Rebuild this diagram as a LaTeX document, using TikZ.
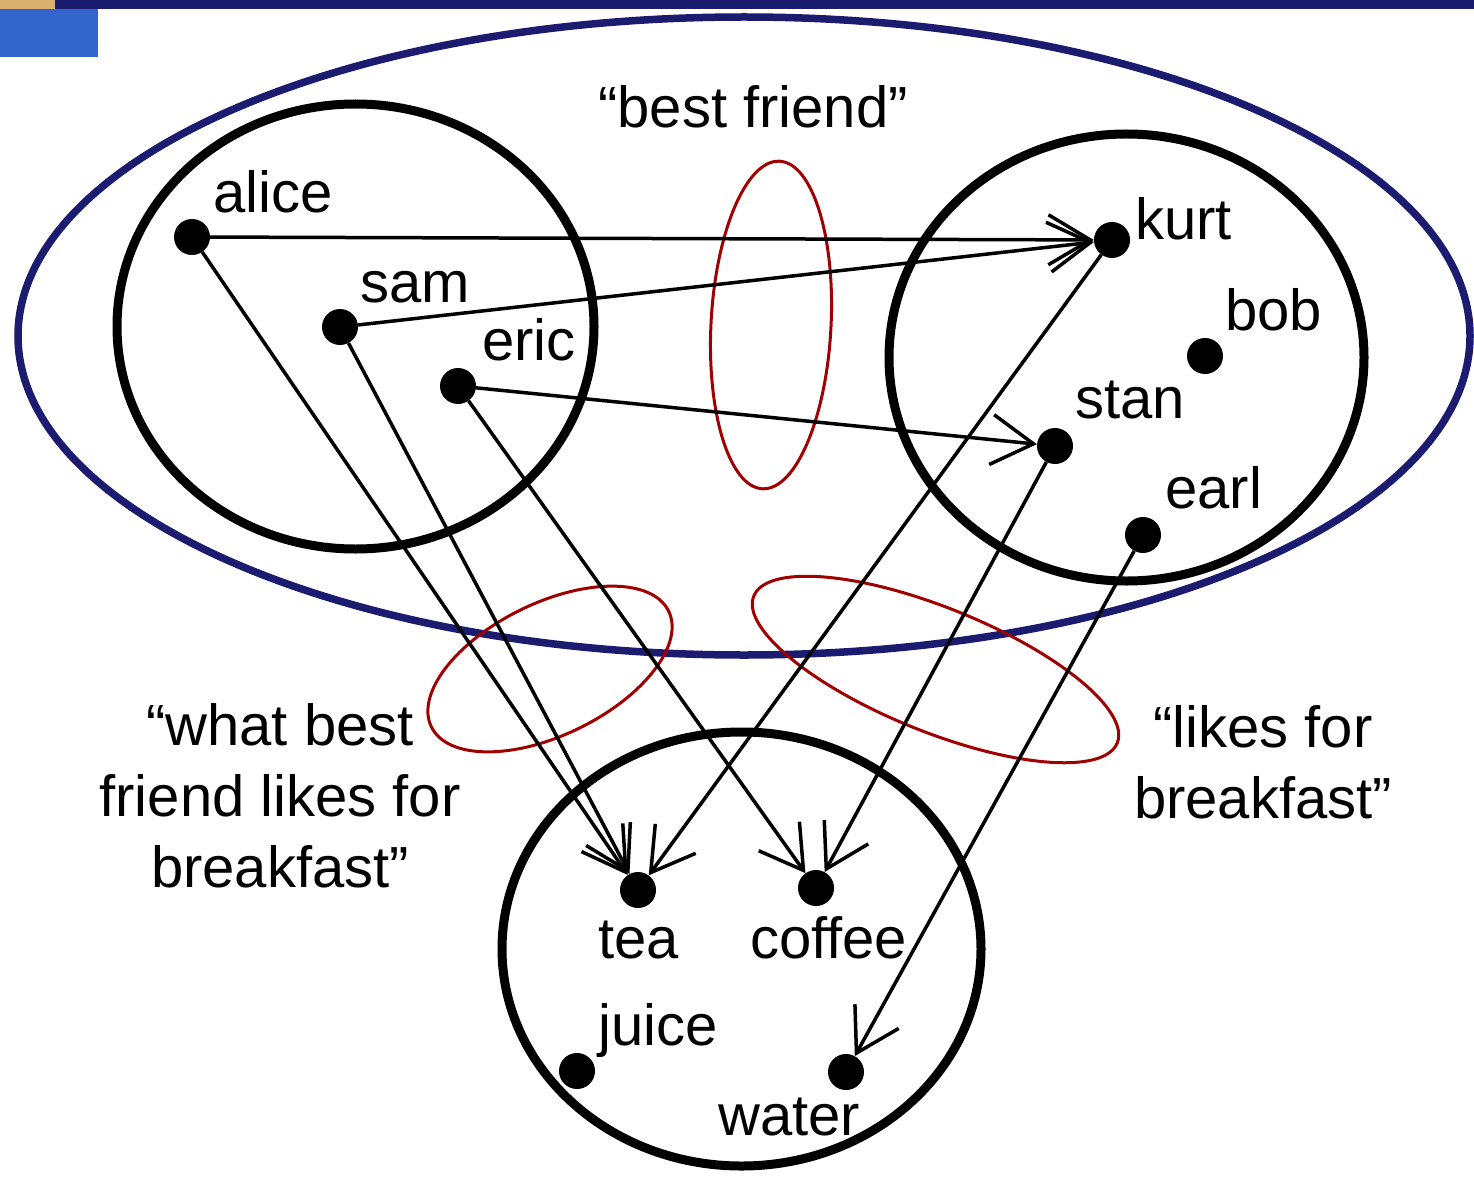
\documentclass[tikz,border=0pt]{standalone}
\usepackage{fontspec}
\setmainfont{Liberation Sans}
\usetikzlibrary{arrows.meta}
\definecolor{navy}{HTML}{1B1B6F}
\definecolor{topblue}{HTML}{3366CC}
\definecolor{setred}{HTML}{A00000}
\definecolor{tanbit}{HTML}{D8B070}
\begin{document}
\begin{tikzpicture}[x=1pt,y=-1pt,
  dot/.style={circle,fill=black,minimum size=36pt,inner sep=0pt},
  lbl/.style={font=\fontsize{58}{71}\selectfont,inner sep=0pt,anchor=base west},
  mlbl/.style={font=\fontsize{58}{71}\selectfont,inner sep=0pt,align=center,anchor=base},
  arr/.style={line width=3.5pt,-{Straight Barb[length=42pt,width=50pt,line width=3.5pt]}},
  setc/.style={draw=black,line width=9pt},
  relc/.style={draw=setred,line width=3pt},
]
\useasboundingbox (0,0) rectangle (1474,1182);
\fill[white] (0,0) rectangle (1474,1182);
% top bar
\fill[tanbit] (0,0) rectangle (55,9);
\fill[navy] (55,0) rectangle (1474,9);
\fill[topblue] (0,9) rectangle (98,57);

% outer navy ellipse
\draw[navy,line width=7.5pt] (744,336) ellipse [x radius=726pt, y radius=319pt];

% set circles
\draw[setc] (355.5,326.5) ellipse [x radius=238.5pt, y radius=222.5pt];
\draw[setc] (1126.5,357.5) ellipse [x radius=237.5pt, y radius=223.5pt];
\draw[setc] (741.5,949) ellipse [x radius=239.5pt, y radius=217pt];

% relation ellipses
\draw[relc,rotate around={-3:(771,325)}] (771,325) ellipse [x radius=60pt, y radius=164pt];
\draw[relc,rotate around={26:(550,669)}] (550,669) ellipse [x radius=132pt, y radius=66pt];
\draw[relc,rotate around={-22:(935.5,669.5)}] (935.5,669.5) ellipse [x radius=196pt, y radius=62pt];

% dots
\node[dot] (alice) at (192,237) {};
\node[dot] (sam) at (340,327) {};
\node[dot] (eric) at (458,386) {};
\node[dot] (kurt) at (1112,240) {};
\node[dot] (bob) at (1205,356) {};
\node[dot] (stan) at (1055,446) {};
\node[dot] (earl) at (1143,535) {};
\node[dot] (tea) at (638,890) {};
\node[dot] (coffee) at (816,888) {};
\node[dot] (juice) at (577,1071) {};
\node[dot] (water) at (846,1072) {};

% labels
\node[lbl] (lalice) at (213,213) {alice};
\node[lbl] (lsam) at (360,302) {sam};
\node[lbl] (leric) at (482,360) {eric};
\node[lbl] (lkurt) at (1135,240) {kurt};
\node[lbl] (lbob) at (1225,330) {bob};
\node[lbl] (lstan) at (1075,418) {stan};
\node[lbl] (learl) at (1165,508) {earl};
\node[lbl] (ltea) at (598,958) {tea};
\node[lbl] (lcoffee) at (750,958) {coffee};
\node[lbl] (ljuice) at (598,1045) {juice};
\node[lbl] (lwater) at (718,1135) {water};

\node[lbl] (lbest) at (598,128) {“best friend”};
\node[mlbl] (lwhat) at (280,887) {“what best\\friend likes for\\breakfast”};
\node[mlbl] (llikes) at (1263,818) {“likes for\\breakfast”};

% arrows
\draw[arr] (alice) -- (kurt);
\draw[arr] (sam) -- (kurt);
\draw[arr] (eric) -- (stan);
\draw[arr] (alice) -- (tea);
\draw[arr] (sam) -- (tea);
\draw[arr] (eric) -- (coffee);
\draw[arr] (kurt) -- (tea);
\draw[arr] (stan) -- (coffee);
\draw[arr] (earl) -- (water);
\end{tikzpicture}
\end{document}
